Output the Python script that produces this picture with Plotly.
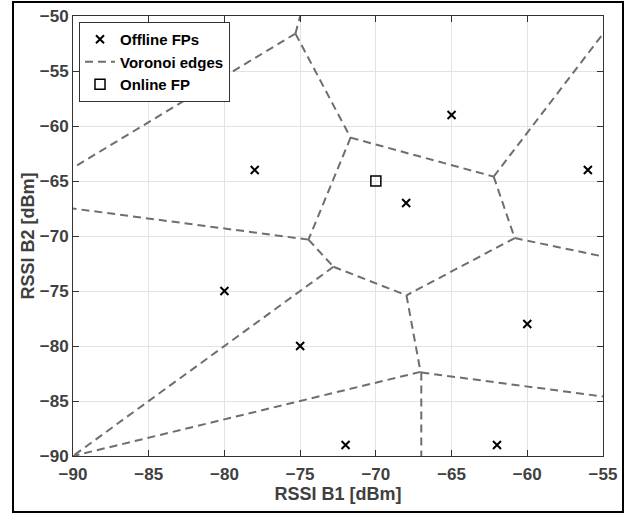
import plotly.graph_objects as go

# ---- data ----
offline_x = [-78, -80, -75, -72, -68, -65, -56, -60, -62]
offline_y = [-64, -75, -80, -89, -67, -59, -64, -78, -89]
online_x = [-70]
online_y = [-65]

# Voronoi edge segments (start x, start y, end x, end y)
edge_x0 = [-75.31, -75.31, -75.31, -71.67, -74.45, -74.45, -72.80, -72.80, -71.67,
           -62.22, -62.22, -60.83, -60.83, -67.98, -67.05, -67.05, -67.00, -67.00]
edge_y0 = [-51.60, -51.60, -51.60, -61.06, -70.33, -70.33, -72.80, -72.80, -61.06,
           -64.60, -64.60, -70.19, -70.19, -75.39, -82.35, -82.35, -82.41, -82.41]
edge_x1 = [-90.00, -74.90, -71.67, -74.45, -90.00, -72.80, -90.00, -67.98, -62.22,
           -54.10, -60.83, -55.00, -67.98, -67.05, -90.00, -67.00, -67.00, -55.00]
edge_y1 = [-63.80, -49.50, -61.06, -70.33, -67.50, -72.80, -90.00, -75.39, -64.60,
           -50.00, -70.19, -71.86, -75.39, -82.35, -90.00, -82.41, -90.00, -84.59]

x_ticks = [-90, -85, -80, -75, -70, -65, -60, -55]
y_ticks = [-90, -85, -80, -75, -70, -65, -60, -55, -50]

# build polyline with gaps
vx, vy = [], []
for a, b, c, d in zip(edge_x0, edge_y0, edge_x1, edge_y1):
    vx += [a, c, None]
    vy += [b, d, None]

W, H = 634, 515
ML, MR, MT, MB = 73, 31, 16, 59
PW, PH = W - ML - MR, H - MT - MB

def px2paper_x(p):
    return (p - ML) / PW

def px2paper_y(p):
    return (H - MB - p) / PH

FONT = "Liberation Sans, Arial, Helvetica, sans-serif"

fig = go.Figure()
fig.add_trace(go.Scatter(
    x=offline_x, y=offline_y, mode="markers", name="Offline FPs",
    marker=dict(symbol="x-thin", size=8, color="black",
                line=dict(color="black", width=2)),
))
fig.add_trace(go.Scatter(
    x=vx, y=vy, mode="lines", name="Voronoi edges",
    line=dict(color="#6e6e6e", width=2, dash="8px,5px"),
    connectgaps=False,
))
fig.add_trace(go.Scatter(
    x=online_x, y=online_y, mode="markers", name="Online FP",
    marker=dict(symbol="square-open", size=10, color="black",
                line=dict(color="black", width=1.5)),
))

axis_common = dict(
    showgrid=True, gridcolor="#e3e3e3", gridwidth=1,
    showline=True, linecolor="#333333", linewidth=1, mirror="ticks",
    ticks="inside", ticklen=6, tickcolor="#333333", tickwidth=1,
    zeroline=False,
    tickfont=dict(family=FONT, size=17, color="#404040", weight="bold"),
)

fig.update_layout(
    width=W, height=H,
    margin=dict(l=ML, r=MR, t=MT, b=MB, autoexpand=False),
    paper_bgcolor="white", plot_bgcolor="white",
    xaxis=dict(range=[-90, -55], tickvals=x_ticks, ticklabelstandoff=3,
               title=dict(text="RSSI B1 [dBm]", standoff=0,
                          font=dict(family=FONT, size=18, color="#404040", weight="bold")),
               **axis_common),
    yaxis=dict(range=[-90, -50], tickvals=y_ticks,
               title=dict(text="RSSI B2 [dBm]", standoff=0,
                          font=dict(family=FONT, size=18, color="#404040", weight="bold")),
               **axis_common),
    legend=dict(
        x=px2paper_x(79), y=px2paper_y(22), xanchor="left", yanchor="top",
        bgcolor="white", bordercolor="#333333", borderwidth=1,
        font=dict(family=FONT, size=15, color="black", weight="bold"),
        tracegroupgap=0, itemwidth=30,
    ),
    showlegend=True,
    shapes=[dict(
        type="rect", xref="paper", yref="paper",
        x0=px2paper_x(13), x1=px2paper_x(623),
        y0=px2paper_y(512), y1=px2paper_y(2),
        line=dict(color="black", width=2), fillcolor="rgba(0,0,0,0)",
        layer="above",
    )],
)

fig.write_html("out.html")
